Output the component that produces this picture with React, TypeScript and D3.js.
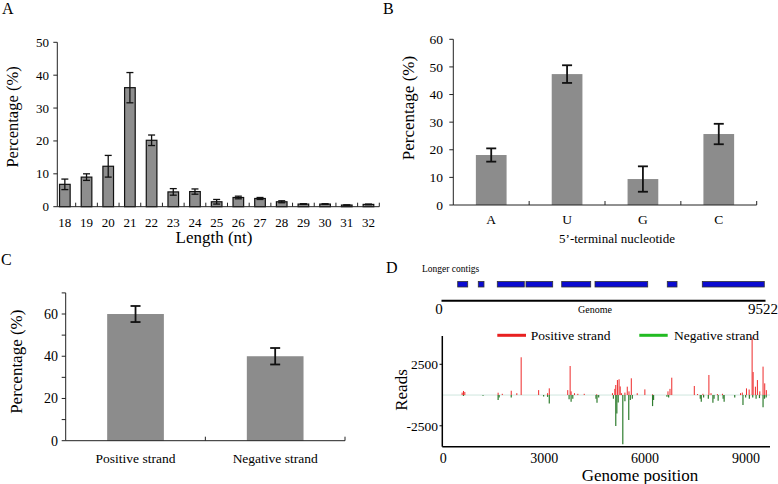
import React from 'react'
import * as d3 from 'd3'

// panel A: length distribution
const lengths = ['18', '19', '20', '21', '22', '23', '24', '25', '26', '27', '28', '29', '30', '31', '32']
const lengthPct = [6.8, 9.0, 12.3, 36.2, 20.2, 4.5, 4.6, 1.5, 2.8, 2.5, 1.5, 0.8, 0.8, 0.5, 0.7]
const lengthErr = [1.6, 1.0, 3.3, 4.6, 1.6, 1.0, 0.8, 0.7, 0.4, 0.3, 0.3, 0.1, 0.1, 0.05, 0.1]

// panel B: 5' nucleotide
const nucleotides = ['A', 'U', 'G', 'C']
const nucPct = [18.1, 47.4, 9.4, 25.7]
const nucErr = [2.4, 3.2, 4.6, 3.7]

// panel C: strand
const strands = ['Positive strand', 'Negative strand']
const strandPct = [60, 40]
const strandErr = [3.8, 3.9]

// panel D: contigs and reads along genome
const genomeLen = 9522
const contigs = [[434, 729], [1042, 1210], [1603, 2400], [2450, 3239], [3505, 4361], [4488, 6044], [6622, 6909], [7656, 9486]]
const posReads = [
    [560, 200], [600, 330], [640, 250], [1630, 190], [1754, 100], [2020, 350], [2186, 150], [2315, 3070],
    [2835, 400], [3100, 150], [3151, 545], [3700, 400], [3771, 2360], [3800, 300], [3900, 150], [4000, 100],
    [4190, 100], [4560, 60], [5030, 150], [5100, 500], [5128, 815], [5177, 1220], [5226, 1280], [5260, 700],
    [5300, 150], [5400, 200], [5470, 680], [5521, 300], [5590, 1360], [5766, 150], [5993, 460], [6222, 60],
    [6680, 300], [6740, 500], [6793, 1410], [7463, 735], [7560, 80], [7720, 100], [7897, 1630], [7960, 150],
    [8150, 80], [8300, 100], [8837, 150], [8890, 200], [9014, 540], [9093, 450], [9182, 4720], [9212, 1870],
    [9280, 680], [9339, 1220], [9410, 300], [9507, 2310], [9557, 950], [9605, 400],
]
const negReads = [
    [600, -80], [1181, -50], [1630, -400], [1660, -200], [2020, -190], [2983, -120], [3100, -150], [3151, -680],
    [3740, -350], [3800, -540], [3850, -300], [4540, -300], [4570, -620], [4620, -200], [5058, -300], [5128, -2525],
    [5160, -1500], [5200, -600], [5337, -4000], [5400, -500], [5514, -2035], [5560, -400], [5620, -300], [6222, -900],
    [6252, -400], [6650, -140], [6700, -200], [7640, -300], [7670, -540], [7740, -200], [7880, -300], [8016, -620],
    [8050, -300], [8172, -460], [8320, -300], [8350, -540], [8665, -200], [8910, -815], [8990, -200], [9100, -300],
    [9200, -200], [9300, -300], [9400, -250], [9507, -1000], [9550, -300], [9600, -200],
]
const readTicks = [2500, -2500]
const posTicks = [0, 3000, 6000, 9000]

const FONT = 'Liberation Serif, DejaVu Serif, serif'

function Bars({ cats, vals, errs, axisX, band, barFrac, yDomain, yRange, yTicks, yLabels, tickLabelX,
    tickFont, catFont, catY, fill, stroke, capW, errW }) {
    const x = d3.scaleBand().domain(cats).range(band)
    const y = d3.scaleLinear().domain(yDomain).range(yRange)
    const bw = x.bandwidth() * barFrac
    return (
        <g>
            {cats.map((c, i) => {
                const cx = x(c) + x.bandwidth() / 2
                return (
                    <g key={c}>
                        <rect x={cx - bw / 2} y={y(vals[i])} width={bw} height={y(0) - y(vals[i])}
                            fill={fill} stroke={stroke || 'none'} strokeWidth={1.2} />
                        <line x1={cx} x2={cx} y1={y(vals[i] - errs[i])} y2={y(vals[i] + errs[i])} stroke="#111" strokeWidth={errW} />
                        <line x1={cx - capW / 2} x2={cx + capW / 2} y1={y(vals[i] + errs[i])} y2={y(vals[i] + errs[i])} stroke="#111" strokeWidth={errW} />
                        <line x1={cx - capW / 2} x2={cx + capW / 2} y1={y(vals[i] - errs[i])} y2={y(vals[i] - errs[i])} stroke="#111" strokeWidth={errW} />
                        <text x={cx} y={catY} textAnchor="middle" fontSize={catFont}>{c}</text>
                    </g>
                )
            })}
            {/* axes */}
            <line x1={axisX} x2={axisX} y1={y(yDomain[0])} y2={y(yDomain[1])} stroke="#222" />
            <line x1={axisX} x2={band[1]} y1={y(0)} y2={y(0)} stroke="#222" />
            {yTicks.map((t) => (
                <line key={t} x1={axisX - 4} x2={axisX} y1={y(t)} y2={y(t)} stroke="#222" />
            ))}
            {yLabels.map((t) => (
                <text key={t} x={tickLabelX} y={y(t)} dy="0.35em" textAnchor="end" fontSize={tickFont}>{t}</text>
            ))}
            {cats.map((c, i) => (
                <line key={c} x1={x(c) + x.step()} x2={x(c) + x.step()} y1={y(0)} y2={y(0) - 4} stroke="#222" />
            ))}
        </g>
    )
}

function ReadsPanel() {
    const xG = d3.scaleLinear().domain([0, genomeLen]).range([443, 765.5])
    const xR = d3.scaleLinear().domain([0, 9000]).range([443.3, 746])
    const yR = d3.scaleLinear().domain([-4200, 4800]).range([446.7, 336])
    return (
        <g>
            <text x={422} y={272} fontSize={9.5}>Longer contigs</text>
            {contigs.map(([s, e], i) => (
                <rect key={i} x={xG(s)} y={281.5} width={xG(e) - xG(s)} height={5.5} fill="#0b0bd0" stroke="#333" strokeWidth={0.8} />
            ))}
            <line x1={xG(0) - 1.5} x2={xG(genomeLen)} y1={300.7} y2={300.7} stroke="#000" strokeWidth={2} />
            <text x={439} y={313.5} textAnchor="middle" fontSize={15}>0</text>
            <text x={595} y={313} textAnchor="middle" fontSize={10}>Genome</text>
            <text x={778} y={313.5} textAnchor="end" fontSize={15}>{genomeLen}</text>

            <line x1={443} x2={770} y1={yR(0)} y2={yR(0)} stroke="#cfe6de" strokeWidth={1} />
            {posReads.map(([p, v], i) => (
                <line key={'p' + i} x1={xR(p)} x2={xR(p)} y1={yR(0)} y2={yR(v)} stroke="#ee2a2a" strokeWidth={1} />
            ))}
            {negReads.map(([p, v], i) => (
                <line key={'n' + i} x1={xR(p)} x2={xR(p)} y1={yR(0)} y2={yR(v)} stroke="#2f7d2f" strokeWidth={1.2} />
            ))}
            <line x1={442.3} x2={442.3} y1={336} y2={446.7} stroke="#000" strokeWidth={1.5} />
            <line x1={442.3} x2={770} y1={446.7} y2={446.7} stroke="#000" strokeWidth={1.5} />
            {readTicks.map((t) => (
                <g key={t}>
                    <line x1={439.5} x2={442.3} y1={yR(t)} y2={yR(t)} stroke="#000" />
                    <text x={438} y={yR(t)} dy="0.35em" textAnchor="end" fontSize={13.5}>{t}</text>
                </g>
            ))}
            {posTicks.map((t) => (
                <text key={t} x={xR(t)} y={463.3} textAnchor="middle" fontSize={14}>{t}</text>
            ))}
            <text transform="translate(407,390) rotate(-90)" textAnchor="middle" fontSize={17}>Reads</text>
            <text x={640} y={480.5} textAnchor="middle" fontSize={17}>Genome position</text>

            <line x1={497.3} x2={526} y1={335.3} y2={335.3} stroke="#e82020" strokeWidth={3} />
            <text x={530.7} y={339.5} fontSize={13.5}>Positive strand</text>
            <line x1={639.3} x2={667.7} y1={335.3} y2={335.3} stroke="#22bb22" strokeWidth={3} />
            <text x={674} y={339.5} fontSize={13.5}>Negative strand</text>
        </g>
    )
}

export default function App() {
    return (
        <svg width={778} height={484}
            style={{ position: 'absolute', left: 0, top: 0, background: '#fff', fontFamily: FONT }}>
            {/* A */}
            <text x={2} y={14} fontSize={16}>A</text>
            <Bars cats={lengths} vals={lengthPct} errs={lengthErr} axisX={57.3} band={[54, 379.3]} barFrac={0.49}
                yDomain={[0, 50]} yRange={[206.7, 42.3]} yTicks={[0, 10, 20, 30, 40, 50]} yLabels={[0, 10, 20, 30, 40, 50]}
                tickLabelX={49} tickFont={13} catFont={13} catY={226.5} fill="#8e8e8e" stroke="#111" capW={7} errW={1.3} />
            <text x={214} y={243.3} textAnchor="middle" fontSize={17}>Length (nt)</text>
            <text transform="translate(18,117) rotate(-90)" textAnchor="middle" fontSize={16.5}>Percentage (%)</text>

            {/* B */}
            <text x={383} y={14} fontSize={16}>B</text>
            <Bars cats={nucleotides} vals={nucPct} errs={nucErr} axisX={453.3} band={[453.3, 756.7]} barFrac={0.405}
                yDomain={[0, 60]} yRange={[205, 39.3]} yTicks={[0, 10, 20, 30, 40, 50, 60]} yLabels={[0, 10, 20, 30, 40, 50, 60]}
                tickLabelX={443} tickFont={13.5} catFont={13.5} catY={224} fill="#8c8c8c" capW={10} errW={1.8} />
            <text x={617} y={242.7} textAnchor="middle" fontSize={13}>5’-terminal nucleotide</text>
            <text transform="translate(414,108) rotate(-90)" textAnchor="middle" fontSize={17}>Percentage (%)</text>

            {/* C */}
            <text x={1} y={265} fontSize={16}>C</text>
            <Bars cats={strands} vals={strandPct} errs={strandErr} axisX={65.7} band={[65.7, 345]} barFrac={0.406}
                yDomain={[0, 70]} yRange={[440.7, 292.9]} yTicks={[0, 10, 20, 30, 40, 50, 60, 70]} yLabels={[0, 20, 40, 60]}
                tickLabelX={58} tickFont={14} catFont={13.5} catY={462.7} fill="#8c8c8c" capW={10} errW={1.8} />
            <text transform="translate(22,361.7) rotate(-90)" textAnchor="middle" fontSize={17}>Percentage (%)</text>

            {/* D */}
            <text x={386} y={273} fontSize={16}>D</text>
            <ReadsPanel />
        </svg>
    )
}
